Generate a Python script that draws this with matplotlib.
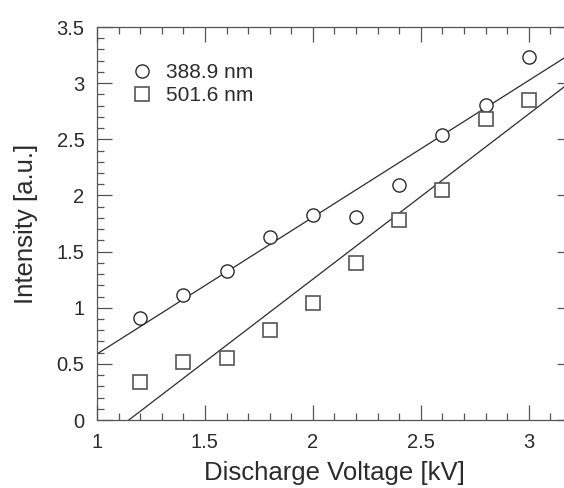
import numpy as np
import matplotlib.pyplot as plt
from matplotlib.ticker import MultipleLocator

# Data
voltage = [1.2, 1.4, 1.6, 1.8, 2.0, 2.2, 2.4, 2.6, 2.8, 3.0]
intensity_389 = [0.91, 1.11, 1.33, 1.63, 1.825, 1.805, 2.09, 2.54, 2.81, 3.23]
intensity_502 = [0.335, 0.515, 0.555, 0.805, 1.045, 1.40, 1.78, 2.05, 2.68, 2.85]
labels = ['388.9 nm', '501.6 nm']

plt.rcParams['font.family'] = ['Liberation Sans', 'DejaVu Sans']

fig = plt.figure(figsize=(5.64, 4.88), dpi=100)
ax = fig.add_axes([0.172, 0.1393, 0.842, 0.8053])

dark = '#2b2b2b'
grey = '#555555'

# Linear fits
xfit = np.linspace(1.0, 3.2, 50)
for ys in (intensity_389, intensity_502):
    k, b = np.polyfit(voltage, ys, 1)
    ax.plot(xfit, k * xfit + b, color=dark, lw=0.9, zorder=2)

ax.plot(voltage, intensity_389, 'o', ms=9.5, mfc='white', mec=dark, mew=1.0,
        ls='none', label=labels[0], zorder=3)
ax.plot(voltage, intensity_502, 's', ms=9.5, mfc='white', mec=grey, mew=1.2,
        ls='none', label=labels[1], zorder=3)

ax.set_xlim(1, 3.2)
ax.set_ylim(0, 3.5)
ax.xaxis.set_major_locator(MultipleLocator(0.5))
ax.xaxis.set_minor_locator(MultipleLocator(0.1))
ax.yaxis.set_major_locator(MultipleLocator(0.5))
ax.yaxis.set_minor_locator(MultipleLocator(0.1))
ax.xaxis.set_major_formatter(plt.FuncFormatter(lambda v, p: f'{v:g}'))
ax.yaxis.set_major_formatter(plt.FuncFormatter(lambda v, p: f'{v:g}'))

ax.tick_params(which='both', direction='in', top=True, right=True,
               color=grey, labelcolor=dark, labelsize=14.5)
ax.tick_params(which='major', length=10.5, width=0.9)
ax.tick_params(axis='x', which='major', pad=9.5)
ax.tick_params(axis='y', which='major', pad=9)
ax.tick_params(which='minor', length=5, width=0.9)
for s in ax.spines.values():
    s.set_color(grey)
    s.set_linewidth(0.9)

ax.set_xlabel('Discharge Voltage [kV]', fontsize=18.5, color=dark, labelpad=6)
ax.set_ylabel('Intensity [a.u.]', fontsize=18.5, color=dark, labelpad=13)

ax.legend(loc='upper left', bbox_to_anchor=(0.06, 0.93), frameon=False,
          fontsize=15, handlelength=0.8, handletextpad=0.75, labelspacing=0.2,
          borderaxespad=0, labelcolor=dark)

fig.savefig('out.png', dpi=100)
